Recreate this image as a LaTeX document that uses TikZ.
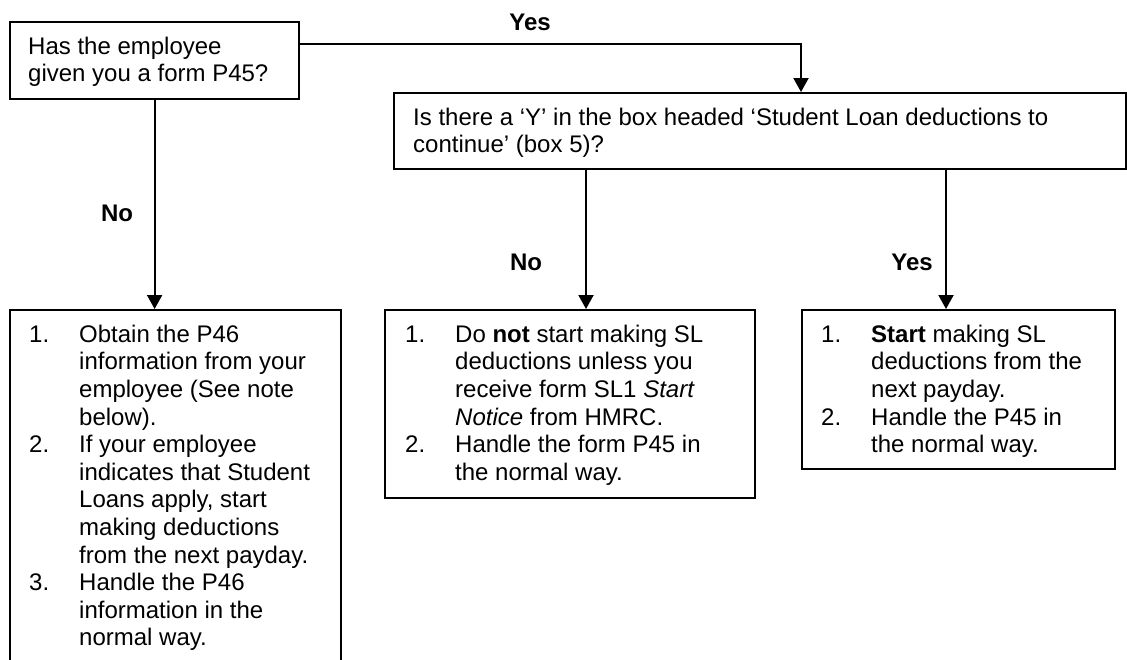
\documentclass[tikz,border=0pt]{standalone}
\usepackage{fontspec}
\setmainfont{Liberation Sans}
\usetikzlibrary{arrows.meta}
% numbered list helpers: fixed number column, hanging continuation lines
\newcommand\itemno[1]{\makebox[50pt][l]{#1}}
\newcommand\cont{\hspace*{50pt}}
\newcommand\firstline{\rule{0pt}{20pt}}

\begin{document}
\begin{tikzpicture}[x=1pt,y=-1pt,
  box/.style={draw, line width=2.2pt, inner sep=0pt, anchor=north west},
  txt/.style={anchor=north west, inner sep=0pt, align=left,
              font=\fontsize{24pt}{27.6pt}\selectfont},
  lbl/.style={font=\fontsize{24pt}{27.6pt}\selectfont\bfseries, inner sep=0pt},
  conn/.style={line width=2pt},
  arrowc/.style={conn, -{Triangle[width=15pt,length=14pt]}}]
\useasboundingbox (0,0) rectangle (1127,659);

% frames
\node[box, minimum width=289pt, minimum height=77pt]  (q1) at (9,21)   {};
\node[box, minimum width=732pt, minimum height=76pt]  (q2) at (393,92) {};
\node[box, minimum width=331pt, minimum height=356pt] (a1) at (9,309)  {};
\node[box, minimum width=370pt, minimum height=188pt] (a2) at (384,309) {};
\node[box, minimum width=313pt, minimum height=159pt] (a3) at (801,309) {};

% texts
\node[txt] (q1t) at (28,34) {\firstline Has the employee\\given you a form P45?};
\node[txt] (q2t) at (413,105) {\firstline Is there a ‘Y’ in the box headed ‘Student Loan deductions to\\continue’ (box 5)?};
\node[txt] (a1t) at (29,322) {\firstline\itemno{1.}Obtain the P46\\
  \cont information from your\\
  \cont employee (See note\\
  \cont below).\\
  \itemno{2.}If your employee\\
  \cont indicates that Student\\
  \cont Loans apply, start\\
  \cont making deductions\\
  \cont from the next payday.\\
  \itemno{3.}Handle the P46\\
  \cont information in the\\
  \cont normal way.};
\node[txt] (a2t) at (405,322) {\firstline\itemno{1.}Do \textbf{not} start making SL\\
  \cont deductions unless you\\
  \cont receive form SL1 \textit{Start}\\
  \cont \textit{Notice} from HMRC.\\
  \itemno{2.}Handle the form P45 in\\
  \cont the normal way.};
\node[txt] (a3t) at (821,322) {\firstline\itemno{1.}\textbf{Start} making SL\\
  \cont deductions from the\\
  \cont next payday.\\
  \itemno{2.}Handle the P45 in\\
  \cont the normal way.};

% connectors
\coordinate (turn) at (801,44);
\coordinate (noX)  at (586,0);
\coordinate (yesX) at (946,0);
\draw[arrowc] (q1.east |- turn) -- (turn) -- (turn |- q2.north);
\draw[arrowc] (q1.south) -- (q1.south |- a1.north);
\draw[arrowc] (q2.south -| noX) -- (a2.north -| noX);
\draw[arrowc] (q2.south -| yesX) -- (a3.north -| yesX);

% branch labels
\node[lbl] (yes1) at (530,22)  {Yes};
\node[lbl] (no1)  at (117,213) {No};
\node[lbl] (no2)  at (526,262) {No};
\node[lbl] (yes2) at (912,262) {Yes};
\end{tikzpicture}
\end{document}
